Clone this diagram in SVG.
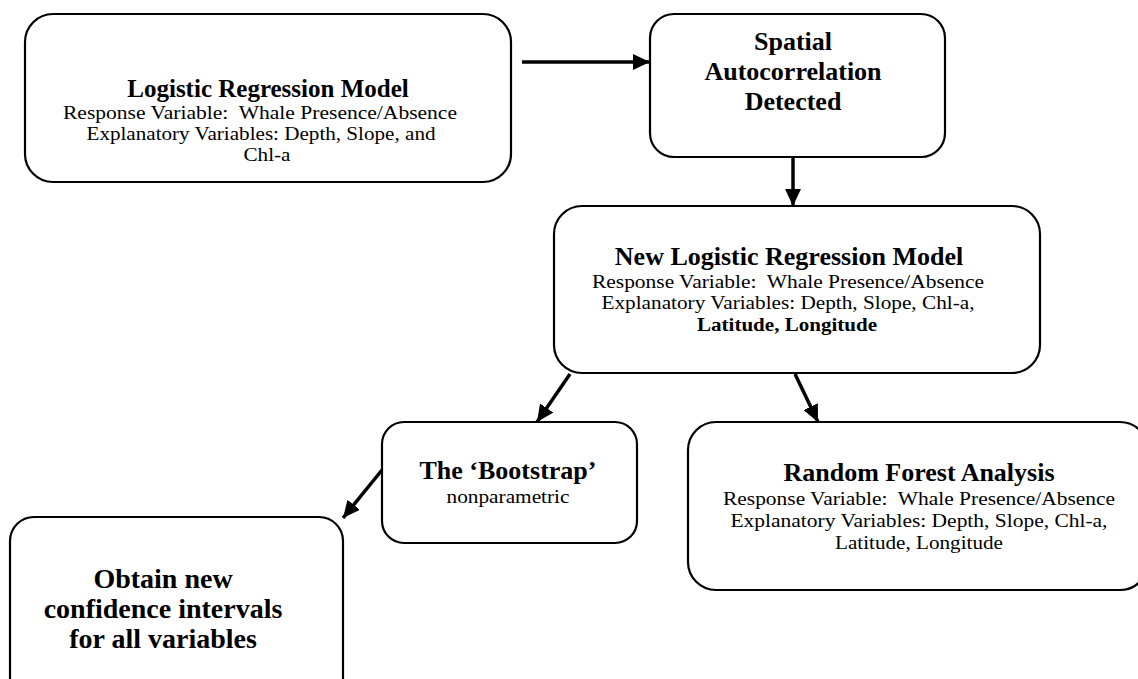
<svg xmlns="http://www.w3.org/2000/svg" width="1138" height="679" viewBox="0 0 1138 679">
<defs>
<style>
.box{fill:#fff;stroke:#000;stroke-width:2.2}
.t{font-family:"Liberation Serif","Times New Roman",serif;fill:#000;text-anchor:middle}
.h{font-weight:bold;font-size:26px}
.b{font-size:18px}
.bb{font-size:18px;font-weight:bold}
.h5{font-weight:bold;font-size:28px}
.c{stroke:#000;stroke-width:3.5;fill:none;marker-end:url(#ah)}
</style>
<marker id="ah" markerUnits="userSpaceOnUse" markerWidth="18" markerHeight="16" refX="17" refY="8" orient="auto">
<path d="M0,0 L17,8 L0,16 z" fill="#000"/>
</marker>
</defs>
<rect width="1138" height="679" fill="#fff"/>
<g id="connectors">
<line class="c" x1="522" y1="62" x2="650" y2="62"/>
<line class="c" x1="793" y1="157" x2="793" y2="206"/>
<line class="c" x1="570" y1="374" x2="537" y2="422"/>
<line class="c" x1="795" y1="374" x2="818" y2="422"/>
<line class="c" x1="382" y1="470" x2="343" y2="518"/>
</g>
<g id="n1">
<rect class="box" x="25" y="14" width="486" height="168" rx="28"/>
<text class="t h" x="268" y="97" style="font-size:25px">Logistic Regression Model</text>
<text class="t b" x="260" y="119" textLength="394" lengthAdjust="spacingAndGlyphs" xml:space="preserve">Response Variable:  Whale Presence/Absence</text>
<text class="t b" x="261" y="140" textLength="349" lengthAdjust="spacingAndGlyphs">Explanatory Variables: Depth, Slope, and</text>
<text class="t b" x="267" y="161" textLength="47" lengthAdjust="spacingAndGlyphs">Chl-a</text>
</g>
<g id="n2">
<rect class="box" x="650" y="14" width="295" height="143" rx="24"/>
<text class="t h" x="793" y="50">Spatial</text>
<text class="t h" x="793" y="80">Autocorrelation</text>
<text class="t h" x="793" y="110">Detected</text>
</g>
<g id="n3">
<rect class="box" x="554" y="206" width="486" height="167" rx="28"/>
<text class="t h" x="789" y="265">New Logistic Regression Model</text>
<text class="t b" x="788" y="288" textLength="392" lengthAdjust="spacingAndGlyphs" xml:space="preserve">Response Variable:  Whale Presence/Absence</text>
<text class="t b" x="788" y="309" textLength="373" lengthAdjust="spacingAndGlyphs">Explanatory Variables: Depth, Slope, Chl-a,</text>
<text class="t bb" x="787" y="331" textLength="180" lengthAdjust="spacingAndGlyphs">Latitude, Longitude</text>
</g>
<g id="n4">
<rect class="box" x="382" y="422" width="255" height="121" rx="22"/>
<text class="t h" x="508" y="479">The ‘Bootstrap’</text>
<text class="t b" x="508" y="503" textLength="123" lengthAdjust="spacingAndGlyphs">nonparametric</text>
</g>
<g id="n5">
<rect class="box" x="10" y="517" width="333" height="190" rx="24"/>
<text class="t h5" x="163" y="588">Obtain new</text>
<text class="t h5" x="163" y="618">confidence intervals</text>
<text class="t h5" x="163" y="648">for all variables</text>
</g>
<g id="n6">
<rect class="box" x="688" y="422" width="460" height="168" rx="28"/>
<text class="t h" x="919" y="481">Random Forest Analysis</text>
<text class="t b" x="919" y="505" textLength="392" lengthAdjust="spacingAndGlyphs" xml:space="preserve">Response Variable:  Whale Presence/Absence</text>
<text class="t b" x="919" y="527" textLength="377" lengthAdjust="spacingAndGlyphs">Explanatory Variables: Depth, Slope, Chl-a,</text>
<text class="t b" x="919" y="549" textLength="168" lengthAdjust="spacingAndGlyphs">Latitude, Longitude</text>
</g>
</svg>
